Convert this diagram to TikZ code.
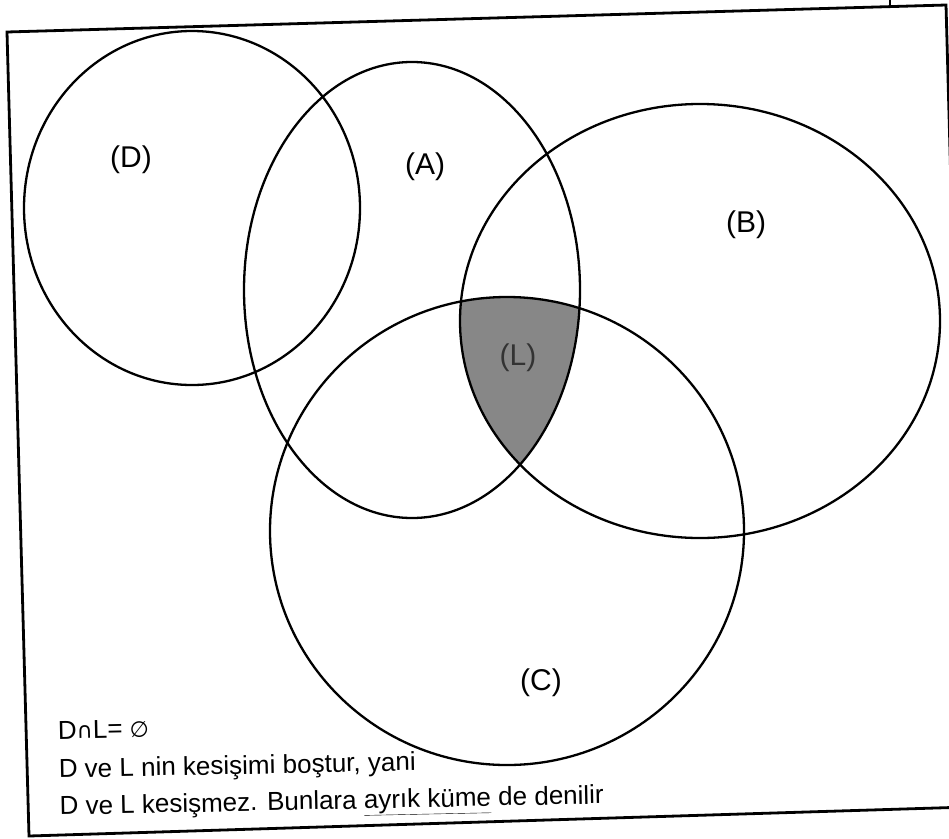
\documentclass[tikz,border=0pt]{standalone}
\usepackage{fontspec}
\setmainfont{Liberation Sans}
\newfontfamily\symfont{DejaVu Sans}
\begin{document}
\begin{tikzpicture}[x=1pt,y=-1pt,
  setline/.style={line width=2.3pt,black},
  framepen/.style={line width=2.8pt,black,line join=miter},
  setlabel/.style={inner sep=0pt,font=\fontsize{30}{36}\selectfont},
  notetext/.style={inner sep=0pt,anchor=base west,rotate=1.2,font=\fontsize{26}{32}\selectfont}]
\useasboundingbox (0,0) rectangle (949,838);
\clip (0,0) rectangle (949,838);
\fill[white] (0,0) rectangle (949,838);
% frame (slightly rotated scan)
\coordinate (ftl) at (7,32);
\coordinate (ftr) at (946,5);
\coordinate (fbr) at (968,807);
\coordinate (fbl) at (29,836);
\draw[framepen] (ftl) -- (ftr) -- (fbr) -- (fbl) -- cycle;
\coordinate (tick0) at (890,0);
\coordinate (tick1) at (890,6);
\draw[line width=2pt] (tick0) -- (tick1);
% shaded region A n B n C
\begin{scope}
  \clip (412,290) ellipse [x radius=168, y radius=228];
  \clip (700,321) ellipse [x radius=240, y radius=217];
  \fill[black!47] (507,531) ellipse [x radius=237, y radius=234];
\end{scope}
% sets
\draw[setline] (192,208) ellipse [x radius=168, y radius=177];
\draw[setline] (412,290) ellipse [x radius=168, y radius=228];
\draw[setline] (700,321) ellipse [x radius=240, y radius=217];
\draw[setline] (507,531) ellipse [x radius=237, y radius=234];
% labels
\node[setlabel] (labD) at (131,160) {(D)};
\node[setlabel] (labA) at (425,167) {(A)};
\node[setlabel] (labB) at (746,225) {(B)};
\node[setlabel] (labC) at (541,683) {(C)};
\node[setlabel,text=black!80] (labL) at (518,358) {(L)};
% notes
\node[notetext] (notes) at (58,739) {\begin{tabular}[t]{@{}l@{}}
D{\symfont\fontsize{22}{26}\selectfont ∩}L= {\symfont\fontsize{22}{26}\selectfont ∅}\\[7pt]
D ve L nin kesişimi boştur, yani\\[5pt]
D ve L kesişmez. Bunlara \underline{ayrık küme} de denilir
\end{tabular}};
\end{tikzpicture}
\end{document}
